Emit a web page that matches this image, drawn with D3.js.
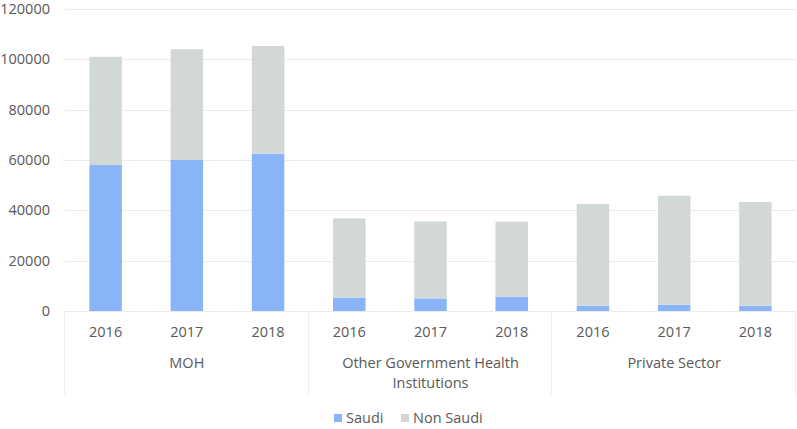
<!DOCTYPE html>
<html>
<head>
<meta charset="utf-8">
<script src="https://cdn.jsdelivr.net/npm/d3@7"></script>
<style>
  body { margin: 0; background: #fff; }
  svg text { font-family: "Open Sans", sans-serif; fill: #595959; }
</style>
</head>
<body>
<svg id="chart" width="797" height="429"></svg>
<script>
const groups = ["MOH", "Other Government Health Institutions", "Private Sector"];
const years = ["2016", "2017", "2018"];
const saudi = [58000, 60000, 62500, 5300, 5000, 5700, 2100, 2500, 2100];
const nonSaudi = [43000, 44000, 42800, 31500, 30600, 29800, 40400, 43300, 41200];
const yTicks = [0, 20000, 40000, 60000, 80000, 100000, 120000];
const seriesNames = ["Saudi", "Non Saudi"];
const colors = ["#8ab4f8", "#d1d8d6"];

const svg = d3.select("#chart");
const margin = { left: 65, right: 1, top: 9, bottom: 118 };
const W = 797, H = 429;
const x0 = margin.left, x1 = W - margin.right;
const yBase = H - margin.bottom;

const rows = [];
groups.forEach((g, gi) => years.forEach((yr, yi) => {
  const i = gi * years.length + yi;
  rows.push({ key: g + "|" + yr, group: g, year: yr, Saudi: saudi[i], "Non Saudi": nonSaudi[i] });
}));

const x = d3.scaleBand().domain(rows.map(d => d.key)).range([x0, x1]).paddingInner(0.6).paddingOuter(0.3);
const xb = d3.scaleBand().domain(rows.map(d => d.key)).range([x0, x1]);
const y = d3.scaleLinear().domain([0, 120000]).range([yBase, margin.top]);

// gridlines
svg.append("g").selectAll("line").data(yTicks).join("line")
  .attr("x1", x0).attr("x2", x1)
  .attr("y1", d => Math.round(y(d)) + 0.5).attr("y2", d => Math.round(y(d)) + 0.5)
  .attr("stroke", "#ececec").attr("stroke-width", 1);

// y labels
svg.append("g").selectAll("text").data(yTicks).join("text")
  .attr("x", 50).attr("y", d => y(d)).attr("dy", "0.35em")
  .attr("text-anchor", "end").attr("font-size", 14.5)
  .text(d => d);

// stacked bars
const stack = d3.stack().keys(seriesNames)(rows);
svg.append("g").selectAll("g").data(stack).join("g")
  .attr("fill", (d, i) => colors[i])
  .selectAll("rect").data(d => d).join("rect")
  .attr("x", d => x(d.data.key))
  .attr("width", x.bandwidth())
  .attr("y", d => y(d[1]))
  .attr("height", d => y(d[0]) - y(d[1]));

// separators
const sepX = [x0];
groups.forEach((g, gi) => sepX.push(xb(rows[gi * 3 + 2].key) + xb.bandwidth()));
svg.append("g").selectAll("line").data(sepX).join("line")
  .attr("x1", d => Math.round(d) - 0.5).attr("x2", d => Math.round(d) - 0.5)
  .attr("y1", yBase).attr("y2", 394)
  .attr("stroke", "#ececec");

// year labels
svg.append("g").selectAll("text").data(rows).join("text")
  .attr("x", d => xb(d.key) + xb.bandwidth() / 2).attr("y", 332).attr("dy", "0.35em")
  .attr("text-anchor", "middle").attr("font-size", 14.5)
  .text(d => d.year);

// group labels with wrapping
groups.forEach((g, gi) => {
  const cx = (sepX[gi] + sepX[gi + 1]) / 2;
  const t = svg.append("text").attr("x", cx).attr("y", 363).attr("dy", "0.35em")
    .attr("text-anchor", "middle").attr("font-size", 14.5);
  const words = g.split(" ");
  let line = [], lines = [];
  const maxW = 200;
  const measure = svg.append("text").attr("font-size", 14.5);
  words.forEach(w => {
    const test = line.concat([w]).join(" ");
    measure.text(test);
    if (measure.node().getComputedTextLength() > maxW && line.length) {
      lines.push(line.join(" ")); line = [w];
    } else line.push(w);
  });
  lines.push(line.join(" "));
  measure.remove();
  lines.forEach((l, li) => t.append("tspan").attr("x", cx).attr("dy", li === 0 ? "0.35em" : "1.38em").text(l));
});

// legend
const legendItems = [{ name: seriesNames[0], c: colors[0], x: 334 }, { name: seriesNames[1], c: colors[1], x: 401 }];
const lg = svg.append("g");
legendItems.forEach(it => {
  lg.append("rect").attr("x", it.x).attr("y", 414).attr("width", 8).attr("height", 8).attr("fill", it.c);
  lg.append("text").attr("x", it.x + 12).attr("y", 418).attr("dy", "0.35em").attr("font-size", 14.5).text(it.name);
});
</script>
</body>
</html>
